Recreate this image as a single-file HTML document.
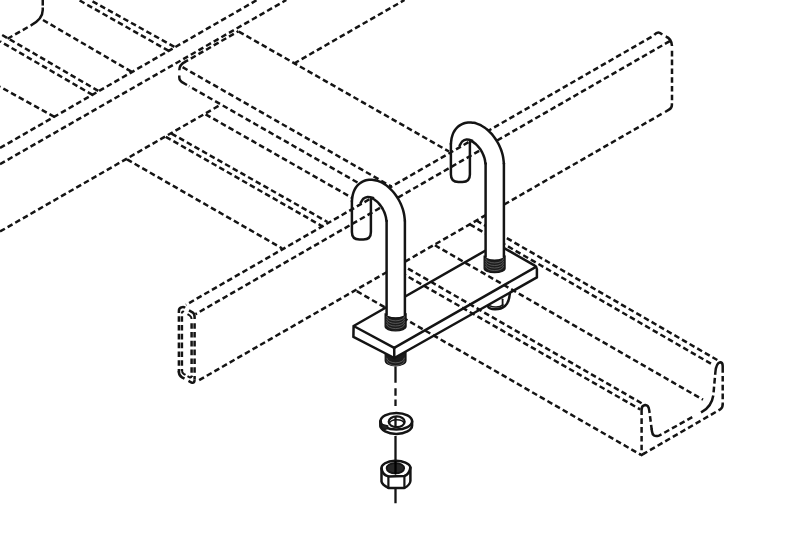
<!DOCTYPE html>
<html lang="en">
<head>
<meta charset="utf-8">
<title>J-bolt hold-down clamp</title>
<style>
html,body{margin:0;padding:0;background:#fff;}
body{width:800px;height:536px;overflow:hidden;font-family:"Liberation Sans",sans-serif;}
svg{display:block;}
</style>
</head>
<body>
<svg width="800" height="536" viewBox="0 0 800 536">
<rect width="800" height="536" fill="#fff"/>
<g fill="none" stroke="#141414" stroke-width="2.5" stroke-linecap="round" stroke-linejoin="round">
<path d="M385.2 352L385.2 360.5A10.4 5.4 0 0 0 406 360.5L406 352Z" fill="#1c1c1c" stroke-width="1.2"/>
<path d="M386.8 358.2A8.8 4.6 0 0 0 404.4 358.2" stroke="#777" stroke-width="0.65"/>
<path d="M386.8 361A8.8 4.6 0 0 0 404.4 361" stroke="#777" stroke-width="0.65"/>
<path d="M487.5 300L487.8 306.3C490 310.6 500 310.2 505 306C508.6 303 510 299 510 289" fill="#fff"/>
<path d="M489.5 305.6C493.5 307.8 499.5 307.4 502.8 304.8" stroke-width="1.6"/>
<path d="M502.6 299.3L502.6 305" stroke-width="1.8"/>
<path d="M353.6 326L497 244L536.9 267.1L536.9 277.4L394.3 358L353.4 336.9Z" fill="#fff" stroke="none"/>
</g>
<g fill="none" stroke="#141414" stroke-width="2.5" stroke-dasharray="5.6 3.2" stroke-linecap="butt">
<path d="M42.75 0L42.75 8"/>
<path d="M42.75 7.5L42.75 10Q42.75 19.2 30.6 25.6" stroke-dasharray="none"/>
<path d="M7.5 38.75L28.5 26.8"/>
<path d="M43 20L131.4 71.7"/>
<path d="M98.3 90.9L0 33.75"/>
<path d="M92.6 94.9L0 41.25"/>
<path d="M174.4 46.8L90 0"/>
<path d="M168.75 50.9L78.75 0"/>
<path d="M54.4 116.9L0 86.7"/>
<path d="M0 148L257 0"/>
<path d="M0 164.2L286.3 0"/>
<path d="M184.5 62.2L238.5 31.2" stroke-dashoffset="1.5"/>
<path d="M185.5 61.6Q179.3 64.5 179.3 70.3" stroke-dasharray="none"/>
<path d="M179.3 75.5L179.3 77.5Q179.3 81 183.75 83.2L187 85" stroke-dasharray="none"/>
<path d="M357.5 182.5L189 86.2"/>
<path d="M182.6 67.2L391.5 186.6"/>
<path d="M238.8 31.6L449 151.5"/>
<path d="M0 231.5L221 104.5"/>
<path d="M294 63.5L404.5 0"/>
<path d="M127 159.4L282 248.3"/>
<path d="M171.5 133.6L327.5 222"/>
<path d="M165.8 136.8L321.8 226"/>
<path d="M205.6 114.3L352 197.8"/>
<path d="M654.3 35.22L186 304.82" stroke-dashoffset="5.6"/>
<path d="M669.8 41.1L195.5 314.15"/>
<path d="M661.6 113.92L197.5 381.1"/>
<path d="M654.3 34.9Q658.4 30.1 662.2 34.6" stroke-dasharray="none"/>
<path d="M665.7 36.5Q671.5 38.5 672 46" stroke-dasharray="none"/>
<path d="M672 50.8L672 100.3"/>
<path d="M671.9 103.3L671.9 105Q671.9 108 669 109.7L665.1 112" stroke-dasharray="none"/>
<path d="M178.9 313L178.9 372.5" stroke-dashoffset="5.6"/>
<path d="M181.9 313L181.9 371" stroke-dashoffset="5.6"/>
<path d="M191.6 320L191.6 377" stroke-dashoffset="5.6"/>
<path d="M194.6 320L194.6 379.5" stroke-dashoffset="5.6"/>
<path d="M178.9 313L178.9 311Q178.9 308 181.6 307.3Q183.5 306.6 185.2 307.8" stroke-dasharray="none"/>
<path d="M181.9 313.5Q181.9 310.8 184 311.9" stroke-dasharray="none" stroke-width="2"/>
<path d="M189 310.3L192.5 312.3Q194.6 313.6 194.6 317L194.6 319" stroke-dasharray="none"/>
<path d="M187.5 314.2L189.7 315.5Q191.6 316.8 191.6 319" stroke-dasharray="none" stroke-width="2"/>
<path d="M178.9 371L178.9 372Q178.9 375.5 182 377.3L184.5 378.7" stroke-dasharray="none"/>
<path d="M181.9 369.5Q181.9 372.6 183.7 373.8L185.5 374.9" stroke-dasharray="none" stroke-width="2"/>
<path d="M188.5 380.9L191.5 382.6Q194.6 383.8 194.6 379.5" stroke-dasharray="none"/>
<path d="M187.5 376.1L189.6 377.3Q191.6 378.3 191.6 375.5" stroke-dasharray="none" stroke-width="2"/>
<path d="M476.4 220.5L720.2 361.7"/>
<path d="M469.9 224.4L712 364.3"/>
<path d="M434.9 245.25L703 399.7"/>
<path d="M400.4 264.2L645 405.2"/>
<path d="M393.4 268.3L640.2 409.4"/>
<path d="M356.8 291.2L640.5 454.6"/>
<path d="M641.6 409.5L641.6 452.5"/>
<path d="M641.6 410L641.6 409.5Q641.6 405.6 645 405Q648.5 404.8 649.2 410.2L649.6 413" stroke-dasharray="none"/>
<path d="M649.6 413L651.7 429.5" stroke-dashoffset="5.6"/>
<path d="M651.6 428.5L651.9 431Q652.6 437.6 659 435.6L661.5 434.3" stroke-dasharray="none"/>
<path d="M661.5 434.3L694.7 415.8" stroke-dashoffset="5.6"/>
<path d="M701 412.3L702.3 411.6Q711.5 406.5 713.3 395.5" stroke-dasharray="none"/>
<path d="M713.3 395.5L715.2 374.2" stroke-dashoffset="5.6"/>
<path d="M715.2 374.2L715.4 372Q716.2 363 720.2 362.2Q722.7 362.2 722.7 366L722.7 372.8" stroke-dasharray="none"/>
<path d="M722.7 372.8L722.7 405" stroke-dashoffset="5.6"/>
<path d="M722.7 404.5Q722.7 407.8 720.2 409.4L718.5 410.4" stroke-dasharray="none"/>
<path d="M718.5 410.4L643.5 453.9" stroke-dashoffset="5.6"/>
<path d="M643.8 453.7L641.6 455L639.8 454" stroke-dasharray="none"/>
</g>
<g fill="none" stroke="#141414" stroke-width="2.5" stroke-linecap="round" stroke-linejoin="round">
<path d="M394.2 347.8L353.6 326L497 244L534.4 265.4Q536.9 266.9 536.9 269L536.9 277.4L394.3 358L353.4 336.9L353.6 326"/>
<path d="M394.2 347.8L536 266.9"/>
<path d="M394.2 347.8L394.3 358"/>
<path d="M404.9 319.6L404.9 220.88L404.58 217.96L404.2 215.04L403.61 212.12L402.8 209.22L401.79 206.35L400.59 203.53L399.21 200.77L397.67 198.09L395.97 195.52L394.12 193.07L392.14 190.76L390.03 188.61L387.8 186.63L385.46 184.85L383 183.28L380.43 181.96L377.74 180.9L374.94 180.15L372.02 179.76L369.03 179.79L366.02 180.32L363.09 181.36L360.39 182.93L358.02 184.94L356.06 187.28L354.53 189.86L353.41 192.58L352.66 195.38L352.23 198.23L351.9 201.12L351.9 206.12L360.6 203L363.3 198.7L367.5 196.9L373.2 198L371.29 198.18L371.95 198.36L372.8 198.7L373.8 199.22L374.92 199.93L376.11 200.84L377.34 201.93L378.57 203.19L379.78 204.6L380.94 206.13L382.02 207.77L383.01 209.48L383.88 211.24L384.64 213L385.25 214.76L385.72 216.45L386.05 218.06L386.24 219.55L386.6 220.88L386.6 319.6Z" fill="#fff" stroke="none"/>
<path d="M370.9 199.3L370.9 231.9Q370.9 239.4 363.4 239.4L359.4 239.4Q351.9 239.4 351.9 231.9L351.9 201.12"/>
<path d="M404.9 314.6L404.9 220.88"/>
<path d="M404.9 220.88C404.85 220.39 404.69 218.94 404.58 217.96C404.46 216.99 404.37 216.02 404.2 215.04C404.04 214.07 403.84 213.09 403.61 212.12C403.37 211.15 403.1 210.18 402.8 209.22C402.5 208.26 402.16 207.3 401.79 206.35C401.42 205.4 401.02 204.46 400.59 203.53C400.16 202.59 399.7 201.67 399.21 200.77C398.73 199.86 398.21 198.97 397.67 198.09C397.13 197.22 396.56 196.36 395.97 195.52C395.38 194.68 394.76 193.86 394.12 193.07C393.48 192.28 392.82 191.5 392.14 190.76C391.46 190.02 390.75 189.29 390.03 188.61C389.31 187.92 388.56 187.26 387.8 186.63C387.04 186 386.26 185.41 385.46 184.85C384.66 184.29 383.84 183.76 383 183.28C382.16 182.8 381.31 182.35 380.43 181.96C379.55 181.56 378.66 181.2 377.74 180.9C376.83 180.6 375.89 180.34 374.94 180.15C373.98 179.96 373.01 179.82 372.02 179.76C371.04 179.7 370.03 179.7 369.03 179.79C368.03 179.89 367.01 180.06 366.02 180.32C365.03 180.58 364.03 180.93 363.09 181.36C362.16 181.8 361.23 182.33 360.39 182.93C359.54 183.52 358.74 184.21 358.02 184.94C357.3 185.66 356.64 186.46 356.06 187.28C355.48 188.1 354.97 188.98 354.53 189.86C354.09 190.74 353.72 191.66 353.41 192.58C353.1 193.5 352.86 194.44 352.66 195.38C352.46 196.32 352.36 197.28 352.23 198.23C352.11 199.19 351.96 200.64 351.9 201.12"/>
<path d="M386.6 314.6L386.6 220.88"/>
<path d="M386.6 220.88C386.54 220.65 386.33 220.02 386.24 219.55C386.15 219.08 386.14 218.58 386.05 218.06C385.97 217.55 385.86 217 385.72 216.45C385.59 215.9 385.43 215.33 385.25 214.76C385.07 214.18 384.86 213.59 384.64 213C384.41 212.42 384.16 211.82 383.88 211.24C383.61 210.65 383.32 210.06 383.01 209.48C382.7 208.9 382.36 208.33 382.02 207.77C381.67 207.21 381.31 206.66 380.94 206.13C380.56 205.6 380.18 205.09 379.78 204.6C379.39 204.11 378.98 203.63 378.57 203.19C378.17 202.74 377.75 202.32 377.34 201.93C376.93 201.54 376.51 201.17 376.11 200.84C375.71 200.51 375.3 200.2 374.92 199.93C374.53 199.66 374.15 199.42 373.8 199.22C373.45 199.01 373.1 198.84 372.8 198.7C372.49 198.55 372.2 198.45 371.95 198.36C371.7 198.27 371.08 198.24 371.29 198.18C371.5 198.12 373.83 198.21 373.2 198C372.57 197.79 369.15 196.78 367.5 196.9C365.85 197.02 364.45 197.68 363.3 198.7C362.15 199.72 361.05 202.28 360.6 203"/>
<path d="M385.1 313.6A10.5 4.2 0 0 0 406.1 313.6L406.1 326.6A10.5 4.2 0 0 1 385.1 326.6Z" fill="#1c1c1c" stroke-width="1.2"/>
<path d="M386.7 316.6A8.9 4.2 0 0 0 404.5 316.6" stroke="#777" stroke-width="0.65"/>
<path d="M386.7 319.2A8.9 4.2 0 0 0 404.5 319.2" stroke="#777" stroke-width="0.65"/>
<path d="M386.7 321.8A8.9 4.2 0 0 0 404.5 321.8" stroke="#777" stroke-width="0.65"/>
<path d="M386.7 324.4A8.9 4.2 0 0 0 404.5 324.4" stroke="#777" stroke-width="0.65"/>
<path d="M503.9 261.8L503.9 163.57L503.58 160.66L503.2 157.74L502.61 154.82L501.8 151.92L500.79 149.05L499.59 146.23L498.21 143.47L496.67 140.79L494.97 138.22L493.12 135.77L491.14 133.46L489.03 131.31L486.8 129.33L484.46 127.55L482 125.98L479.43 124.66L476.74 123.6L473.94 122.85L471.02 122.46L468.03 122.49L465.02 123.02L462.09 124.06L459.39 125.63L457.02 127.64L455.06 129.98L453.53 132.56L452.41 135.28L451.66 138.08L451.23 140.93L450.9 143.82L450.9 148.82L459.6 145.7L462.3 141.4L466.5 139.6L472.2 140.7L470.29 140.88L470.95 141.06L471.8 141.4L472.8 141.92L473.92 142.63L475.11 143.54L476.34 144.63L477.57 145.89L478.78 147.3L479.94 148.83L481.02 150.47L482.01 152.18L482.88 153.94L483.64 155.7L484.25 157.46L484.72 159.15L485.05 160.76L485.24 162.25L485.6 163.57L485.6 261.8Z" fill="#fff" stroke="none"/>
<path d="M469.9 142L469.9 174.6Q469.9 182.1 462.4 182.1L458.4 182.1Q450.9 182.1 450.9 174.6L450.9 143.82"/>
<path d="M503.9 256.8L503.9 163.57"/>
<path d="M503.9 163.57C503.85 163.09 503.69 161.64 503.58 160.66C503.46 159.69 503.37 158.72 503.2 157.74C503.04 156.77 502.84 155.79 502.61 154.82C502.37 153.85 502.1 152.88 501.8 151.92C501.5 150.96 501.16 150 500.79 149.05C500.42 148.1 500.02 147.16 499.59 146.23C499.16 145.29 498.7 144.37 498.21 143.47C497.73 142.56 497.21 141.67 496.67 140.79C496.13 139.92 495.56 139.06 494.97 138.22C494.38 137.38 493.76 136.56 493.12 135.77C492.48 134.98 491.82 134.2 491.14 133.46C490.46 132.72 489.75 131.99 489.03 131.31C488.31 130.62 487.56 129.96 486.8 129.33C486.04 128.7 485.26 128.11 484.46 127.55C483.66 126.99 482.84 126.46 482 125.98C481.16 125.5 480.31 125.05 479.43 124.66C478.55 124.26 477.66 123.9 476.74 123.6C475.83 123.3 474.89 123.04 473.94 122.85C472.98 122.66 472.01 122.52 471.02 122.46C470.04 122.4 469.03 122.4 468.03 122.49C467.03 122.59 466.01 122.76 465.02 123.02C464.03 123.28 463.03 123.63 462.09 124.06C461.16 124.5 460.23 125.03 459.39 125.63C458.54 126.22 457.74 126.91 457.02 127.64C456.3 128.36 455.64 129.16 455.06 129.98C454.48 130.8 453.97 131.68 453.53 132.56C453.09 133.44 452.72 134.36 452.41 135.28C452.1 136.2 451.86 137.14 451.66 138.08C451.46 139.02 451.36 139.98 451.23 140.93C451.11 141.89 450.96 143.34 450.9 143.82"/>
<path d="M485.6 256.8L485.6 163.57"/>
<path d="M485.6 163.57C485.54 163.35 485.33 162.72 485.24 162.25C485.15 161.78 485.14 161.28 485.05 160.76C484.97 160.25 484.86 159.7 484.72 159.15C484.59 158.6 484.43 158.03 484.25 157.46C484.07 156.88 483.86 156.29 483.64 155.7C483.41 155.12 483.16 154.52 482.88 153.94C482.61 153.35 482.32 152.76 482.01 152.18C481.7 151.6 481.36 151.03 481.02 150.47C480.67 149.91 480.31 149.36 479.94 148.83C479.56 148.3 479.18 147.79 478.78 147.3C478.39 146.81 477.98 146.33 477.57 145.89C477.17 145.44 476.75 145.02 476.34 144.63C475.93 144.24 475.51 143.87 475.11 143.54C474.71 143.21 474.3 142.9 473.92 142.63C473.53 142.36 473.15 142.12 472.8 141.92C472.45 141.71 472.1 141.54 471.8 141.4C471.49 141.25 471.2 141.15 470.95 141.06C470.7 140.97 470.08 140.94 470.29 140.88C470.5 140.82 472.83 140.91 472.2 140.7C471.57 140.49 468.15 139.48 466.5 139.6C464.85 139.72 463.45 140.38 462.3 141.4C461.15 142.42 460.05 144.98 459.6 145.7"/>
<path d="M484.1 255.8A10.5 4.2 0 0 0 505.1 255.8L505.1 268.5A10.5 4.2 0 0 1 484.1 268.5Z" fill="#1c1c1c" stroke-width="1.2"/>
<path d="M485.7 258.74A8.9 4.2 0 0 0 503.5 258.74" stroke="#777" stroke-width="0.65"/>
<path d="M485.7 261.28A8.9 4.2 0 0 0 503.5 261.28" stroke="#777" stroke-width="0.65"/>
<path d="M485.7 263.82A8.9 4.2 0 0 0 503.5 263.82" stroke="#777" stroke-width="0.65"/>
<path d="M485.7 266.36A8.9 4.2 0 0 0 503.5 266.36" stroke="#777" stroke-width="0.65"/>
<path d="M395.5 366.5L395.5 382.7M395.5 388.3L395.5 395.8M395.5 399.5L395.5 406M395.5 436L395.5 460M395.5 489L395.5 503.3" stroke-width="2.3" stroke-linecap="butt"/>
<path d="M380.5 421.2L380.5 425.6A15.8 8.3 0 0 0 412.1 425.6L412.1 421.2" fill="#fff"/>
<ellipse cx="396.3" cy="421.2" rx="15.8" ry="8.3" fill="#fff"/>
<ellipse cx="396.7" cy="421.8" rx="8" ry="5.4" fill="#fff" stroke-width="2.2"/>
<path d="M389.3 423.6A7.6 4.6 0 0 1 404.2 423.4" stroke-width="1.5"/>
<path d="M395.5 416L395.5 426.6" stroke-width="2.3" stroke-linecap="butt"/>
<path d="M381 424L387.9 425.9L387.5 428.7L384.4 429.6L381.4 427.4Z" fill="#222" stroke-width="1.2"/>
<path d="M380.6 421.5L380.8 426.5" stroke-width="3"/>
<path d="M381.5 468.5L381.5 481.5Q382 484.6 388.4 488L404.4 488Q410 485 410.4 481L410.4 467.5A14.4 7.2 0 0 0 381.5 468.5Z" fill="#fff"/>
<path d="M381.5 468.5Q382.5 475 388.4 476.4L404.4 476Q409.5 474 410.4 467.5"/>
<path d="M388.4 476.4L388.4 488M404.4 476L404.4 488" stroke-width="2.2"/>
<ellipse cx="395.4" cy="468.2" rx="8.8" ry="5.2" fill="#262626" stroke-width="1.8"/>
<path d="M395.5 462L395.5 473.5" stroke="#000" stroke-width="2.3"/>
</g>
</svg>
</body>
</html>
